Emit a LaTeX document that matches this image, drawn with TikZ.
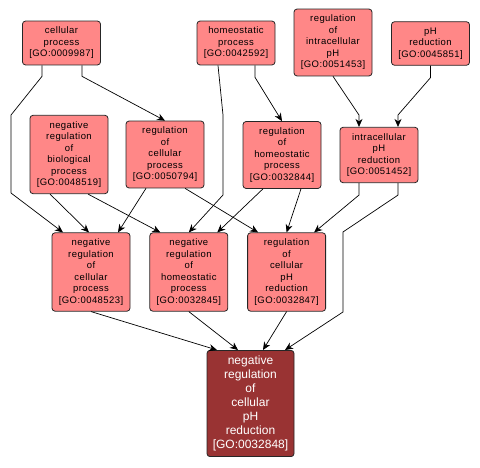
\documentclass[tikz,border=0pt]{standalone}
\usepackage{fontspec}
\setmainfont{Liberation Sans}
\newfontfamily\termfont[LetterSpace=4.5]{Liberation Sans}
\usepackage{tikz}
\usetikzlibrary{arrows.meta, positioning}

\definecolor{termfill}{RGB}{255,135,135}
\definecolor{queryfill}{RGB}{153,51,51}

\begin{document}
\begin{tikzpicture}[x=1pt, y=-1pt, node distance=19pt,
    term/.style={draw=black!85, fill=termfill, rounded corners=3pt, line width=0.8pt,
      align=center, minimum width=78pt, inner xsep=1pt, inner ysep=6pt,
      font=\termfont\fontsize{9.5}{11.5}\selectfont},
    query/.style={term, fill=queryfill, text=white, minimum width=87pt, inner ysep=5.5pt,
      font=\rmfamily\fontsize{12}{14}\selectfont},
    edge/.style={-{Stealth[length=8pt, width=7pt, inset=2.5pt]}, line width=0.7pt}]
  \useasboundingbox (0,0) rectangle (480,468);

  % top row
  \node[term] (cp)   at (61.5,43)  {cellular\\process\\{[GO:0009987]}};
  \node[term] (hp)   at (236,43)   {homeostatic\\process\\{[GO:0042592]}};
  \node[term] (rip)  at (333,42.5) {regulation\\of\\intracellular\\pH\\{[GO:0051453]}};
  \node[term] (phr)  at (430.5,43.5) {pH\\reduction\\{[GO:0045851]}};

  % second row
  \node[term] (nrbp) at (69,154.5)  {negative\\regulation\\of\\biological\\process\\{[GO:0048519]}};
  \node[term] (rcp)  at (165,154.5) {regulation\\of\\cellular\\process\\{[GO:0050794]}};
  \node[term] (rhp)  at (282,155)   {regulation\\of\\homeostatic\\process\\{[GO:0032844]}};
  \node[term] (iphr) at (379,155)   {intracellular\\pH\\reduction\\{[GO:0051452]}};

  % third row
  \node[term] (nrcp)  at (91,272) {negative\\regulation\\of\\cellular\\process\\{[GO:0048523]}};
  \node[term, right=of nrcp] (nrhp) {negative\\regulation\\of\\homeostatic\\process\\{[GO:0032845]}};
  \node[term, right=of nrhp] (rcphr) {regulation\\of\\cellular\\pH\\reduction\\{[GO:0032847]}};

  % query term
  \node[query] (nrcphr) at (250.5,403.5) {negative\\regulation\\of\\cellular\\pH\\reduction\\{[GO:0032848]}};

  % edges
  \draw[edge] ([xshift=20.5pt]cp.south) -- ++(0,11) -- (rcp.north);
  \draw[edge] ([xshift=-19.5pt]cp.south) -- ++(0,11) -- (11,115) -- (11,193) -- ([xshift=-28pt]nrcp.north);
  \draw[edge] ([xshift=-19pt]nrbp.south) -- ([xshift=-2pt]nrcp.north);
  \draw[edge] ([xshift=19pt]nrbp.south) -- ([xshift=-28.5pt]nrhp.north);
  \draw[edge] ([xshift=-19pt]rcp.south) -- ([xshift=27pt]nrcp.north);
  \draw[edge] ([xshift=20pt]rcp.south) -- ([xshift=-28.5pt]rcphr.north);
  \draw[edge] ([xshift=-18pt]hp.south) -- (223,115) -- (223,195) -- (nrhp.north);
  \draw[edge] ([xshift=19pt]hp.south) -- ++(0,12) -- (rhp.north);
  \draw[edge] ([xshift=-19pt]rhp.south) -- ([xshift=28.5pt]nrhp.north);
  \draw[edge] ([xshift=19pt]rhp.south) -- (rcphr.north);
  \draw[edge] (rip.south) -- (359,115) -- ([xshift=-20pt]iphr.north);
  \draw[edge] (phr.south) -- ++(0,12) -- (398,115) -- ([xshift=19pt]iphr.north);
  \draw[edge] ([xshift=-20pt]iphr.south) -- ++(0,12) -- ([xshift=27.5pt]rcphr.north);
  \draw[edge] ([xshift=19pt]iphr.south) -- ++(0,12) -- (343,232) -- (343,312) -- ([xshift=34.5pt]nrcphr.north);
  \draw[edge] (nrcp.south) -- ([xshift=-33.5pt]nrcphr.north);
  \draw[edge] (nrhp.south) -- ([xshift=-12.5pt]nrcphr.north);
  \draw[edge] (rcphr.south) -- ([xshift=12.5pt]nrcphr.north);
\end{tikzpicture}
\end{document}
